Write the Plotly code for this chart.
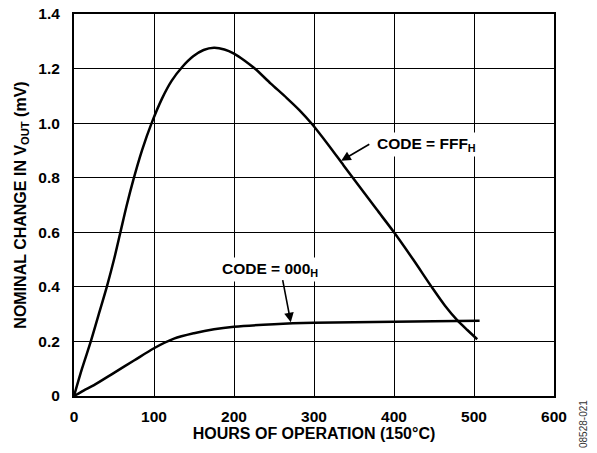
import plotly.graph_objects as go

# Data
hours_fff = [0, 10, 21, 31, 41, 50, 58, 66, 74, 85, 97, 110, 122, 135, 149, 162, 175, 188, 200, 213, 226, 246, 266, 282, 298, 318, 337, 357, 378, 400, 424, 447, 464, 479, 492, 504]
vout_fff = [0, 0.10, 0.20, 0.30, 0.40, 0.50, 0.60, 0.70, 0.79, 0.90, 1.00, 1.09, 1.155, 1.205, 1.245, 1.268, 1.276, 1.27, 1.255, 1.23, 1.20, 1.145, 1.092, 1.047, 0.995, 0.92, 0.845, 0.767, 0.685, 0.60, 0.50, 0.40, 0.33, 0.278, 0.241, 0.208]

hours_000 = [0, 12, 25, 50, 75, 100, 125, 150, 175, 200, 250, 300, 350, 400, 450, 507]
vout_000 = [0, 0.02, 0.04, 0.085, 0.13, 0.175, 0.21, 0.23, 0.245, 0.254, 0.263, 0.268, 0.270, 0.272, 0.274, 0.276]

x_ticks = [0, 100, 200, 300, 400, 500, 600]
y_ticks = [0, 0.2, 0.4, 0.6, 0.8, 1.0, 1.2, 1.4]
y_tick_text = ["0", "0.2", "0.4", "0.6", "0.8", "1.0", "1.2", "1.4"]

FONT = "Liberation Sans, Arial, sans-serif"

fig = go.Figure()
fig.add_trace(go.Scatter(x=hours_fff, y=vout_fff, mode="lines",
                         line=dict(color="black", width=2.5, shape="spline", smoothing=0.8),
                         showlegend=False, name="CODE = FFFH"))
fig.add_trace(go.Scatter(x=hours_000, y=vout_000, mode="lines",
                         line=dict(color="black", width=2.5, shape="spline", smoothing=0.8),
                         showlegend=False, name="CODE = 000H"))

axis_common = dict(
    showgrid=True, gridcolor="black", gridwidth=1,
    showline=True, linecolor="black", linewidth=2, mirror=True,
    zeroline=False, ticks="", automargin=False,
    tickfont=dict(family=FONT, size=15.5, color="black", weight="bold"),
)

title_font = dict(family=FONT, size=16, color="black", weight="bold")

fig.update_layout(
    width=597, height=453,
    margin=dict(l=74, r=43, t=14, b=57),
    paper_bgcolor="white", plot_bgcolor="white",
    xaxis=dict(range=[0, 600], tickvals=x_ticks, ticklabelstandoff=5,
               title=dict(text="HOURS OF OPERATION (150°C)", standoff=4, font=title_font),
               **axis_common),
    yaxis=dict(range=[0, 1.4], tickvals=y_ticks, ticktext=y_tick_text, ticklabelstandoff=9,
               title=dict(text="NOMINAL CHANGE IN V<sub>OUT</sub> (mV)", standoff=8, font=title_font),
               **axis_common),
)

ann_font = dict(family=FONT, size=15.5, color="black", weight="bold")

# Label texts (white background breaks the grid lines like in the reference)
fig.add_annotation(x=375, y=0.92, xref="x", yref="y", text="CODE = FFF<sub>H</sub>",
                   showarrow=False, xanchor="left", yanchor="middle", font=ann_font,
                   bgcolor="white", borderpad=2)
fig.add_annotation(x=181, y=0.464, xref="x", yref="y", text="CODE = 000<sub>H</sub>",
                   showarrow=False, xanchor="left", yanchor="middle", font=ann_font,
                   bgcolor="white", borderpad=2)

# Arrows
fig.add_annotation(x=334, y=0.862, ax=371, ay=0.926, xref="x", yref="y", axref="x", ayref="y",
                   text="", showarrow=True, arrowhead=2, arrowsize=1.2, arrowwidth=1.6,
                   arrowcolor="black", standoff=0)
fig.add_annotation(x=271, y=0.27, ax=260.5, ay=0.43, xref="x", yref="y", axref="x", ayref="y",
                   text="", showarrow=True, arrowhead=2, arrowsize=1.2, arrowwidth=1.6,
                   arrowcolor="black", standoff=0)

# Figure id on the right edge
fig.add_annotation(x=1.0, y=0.0, xref="paper", yref="paper", xshift=29, yshift=-28,
                   text="08528-021", showarrow=False, textangle=-90,
                   font=dict(family=FONT, size=10, color="#333333"),
                   xanchor="center", yanchor="middle")

fig.write_html("out.html", config={"displayModeBar": False},
               post_script="document.body.style.margin='0';")
